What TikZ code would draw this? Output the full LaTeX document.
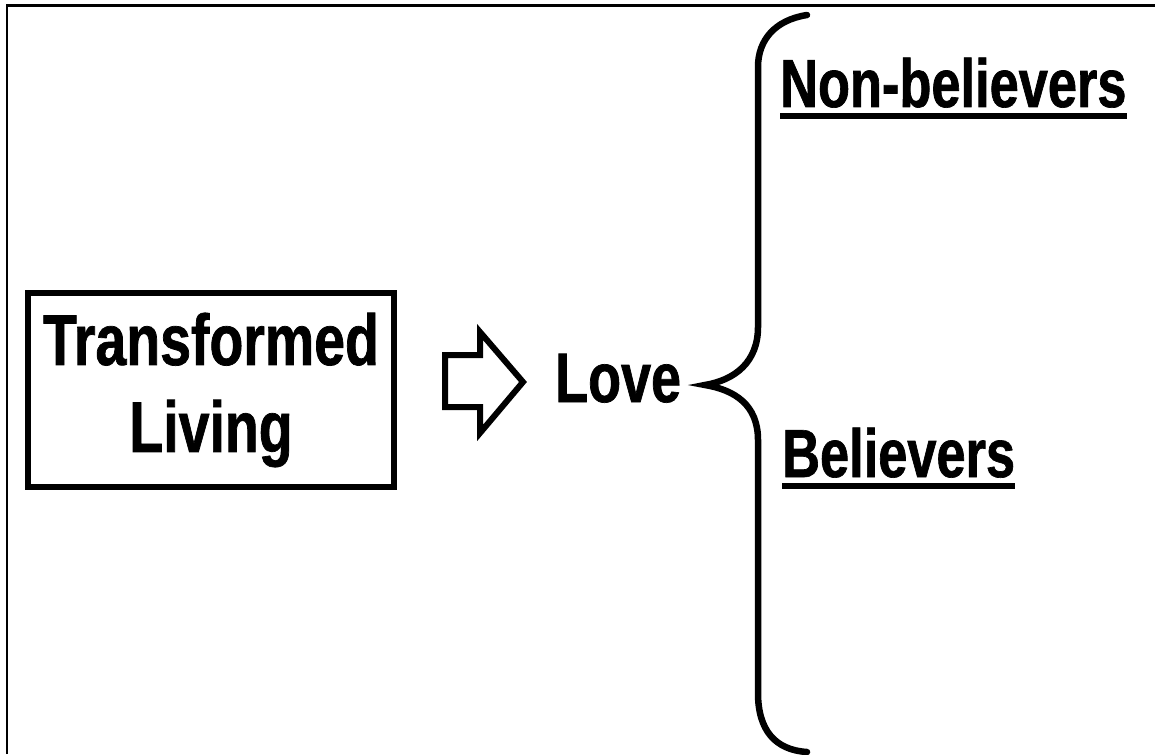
\documentclass[tikz,border=0pt]{standalone}
\usepackage{fontspec}
\newfontfamily\narrowsans{Liberation Sans}[FakeStretch=0.77, BoldFeatures={FakeBold=1}]
\usetikzlibrary{calc, positioning}

\begin{document}
\begin{tikzpicture}
    [
        x=1pt, y=-1pt,
        outline/.style = {
            line width=6pt, line join=miter
            },
        living box/.style = {
            draw, outline, rectangle, align=center, inner sep=0pt,
            minimum width=366pt, minimum height=194pt,
            font=\narrowsans\bfseries\fontsize{72}{87}\selectfont
            },
        word/.style = {
            anchor=base west, inner sep=0pt,
            font=\narrowsans\bfseries\fontsize{68}{80}\selectfont
            },
        rule/.style = {
            line width=6pt
            },
    ]
    \useasboundingbox (0,0) rectangle (1155,754);
    % page edge
    \draw[line width=2.5pt] (7,754) -- (7,5.5) -- (1155,5.5);

    \node[living box] (living) at (211,390) {Transformed\\Living};

    % hollow arrow
    \draw[outline] (445,355) -- (480,355) -- (480,332) -- (523,382)
        -- (480,433) -- (480,407) -- (445,407) -- cycle;

    \node[word, font=\narrowsans\bfseries\fontsize{70}{80}\selectfont]
        (love) at (555,402) {Love};

    % brace
    \coordinate (tip) at (705,385);
    \draw[line width=6.5pt, line cap=round]
        (807,15) .. controls (775,20) and (758,40) .. (758,67)
        -- (758,327) .. controls (758,362) and (735,380) .. (tip)
        .. controls (735,390) and (758,405) .. (758,440)
        -- (758,693) .. controls (758,730) and (775,750) .. (807,752);

    \node[word] (nonbelievers) at (780,107) {Non-believers};
    \node[word] (believers) at (782,477) {Believers};
    \draw[rule] ($(nonbelievers.base west)+(0,9)$) -- ($(nonbelievers.base east)+(0,9)$);
    \draw[rule] ($(believers.base west)+(0,9)$) -- ($(believers.base east)+(0,9)$);
\end{tikzpicture}
\end{document}
